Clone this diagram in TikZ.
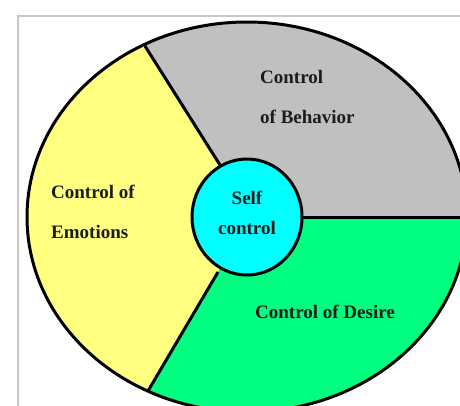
\documentclass[tikz,border=0pt]{standalone}
\usepackage{fontspec}
\setmainfont{Liberation Serif}
\definecolor{segyellow}{HTML}{FFFF80}
\definecolor{seggray}{HTML}{C0C0C0}
\definecolor{seggreen}{HTML}{00FF80}
\definecolor{segcyan}{HTML}{00FFFF}
\definecolor{labelcol}{HTML}{1C1C1C}
\definecolor{framecol}{HTML}{C8C8C8}
\begin{document}
\begin{tikzpicture}[x=1pt,y=-1pt,
  lbl/.style={font=\fontsize{19}{19}\selectfont\bfseries, text=labelcol, inner sep=0pt},
  edge/.style={line width=3pt, black}]
\useasboundingbox (0,0) rectangle (460,405);
\clip (0,0) rectangle (460,405);
\fill[white] (0,0) rectangle (460,405);
% frame
\draw[framecol, line width=1.6pt] (18,420) -- (18,16) -- (470,16);
% coordinates
\coordinate (ctr) at (247,217);
\coordinate (A) at (145,46);
\coordinate (B) at (220,165);
\coordinate (C) at (218,272);
\coordinate (D) at (148,391);
\coordinate (E) at (300,217);
\coordinate (F) at (480,217);
% sectors
\begin{scope}
  \clip (ctr) ellipse [x radius=220, y radius=195];
  \fill[segyellow] (ctr) ellipse [x radius=220, y radius=195];
  \fill[seggray] (ctr) -- (B) -- (A) -- (70,-73) -- (600,-73) -- (600,217) -- cycle;
  \fill[seggreen] (ctr) -- (600,217) -- (600,520) -- (78,510) -- (D) -- (C) -- cycle;
\end{scope}
\draw[edge] (A) -- (B);
\draw[edge] (C) -- (D);
\draw[edge] (E) -- (F);
\draw[edge] (ctr) ellipse [x radius=220, y radius=195];
% center
\draw[edge, fill=segcyan] (ctr) ellipse [x radius=55, y radius=58];
% labels
\node[lbl, anchor=west] (beh1) at (260,77) {Control};
\node[lbl, anchor=west] (beh2) at (260,117) {of Behavior};
\node[lbl, anchor=west] (emo1) at (51,192) {Control of};
\node[lbl, anchor=west] (emo2) at (51,232) {Emotions};
\node[lbl] (self1) at (247,198) {Self};
\node[lbl] (self2) at (247,228) {control};
\node[lbl] (des) at (325,312) {Control of Desire};
\end{tikzpicture}
\end{document}
